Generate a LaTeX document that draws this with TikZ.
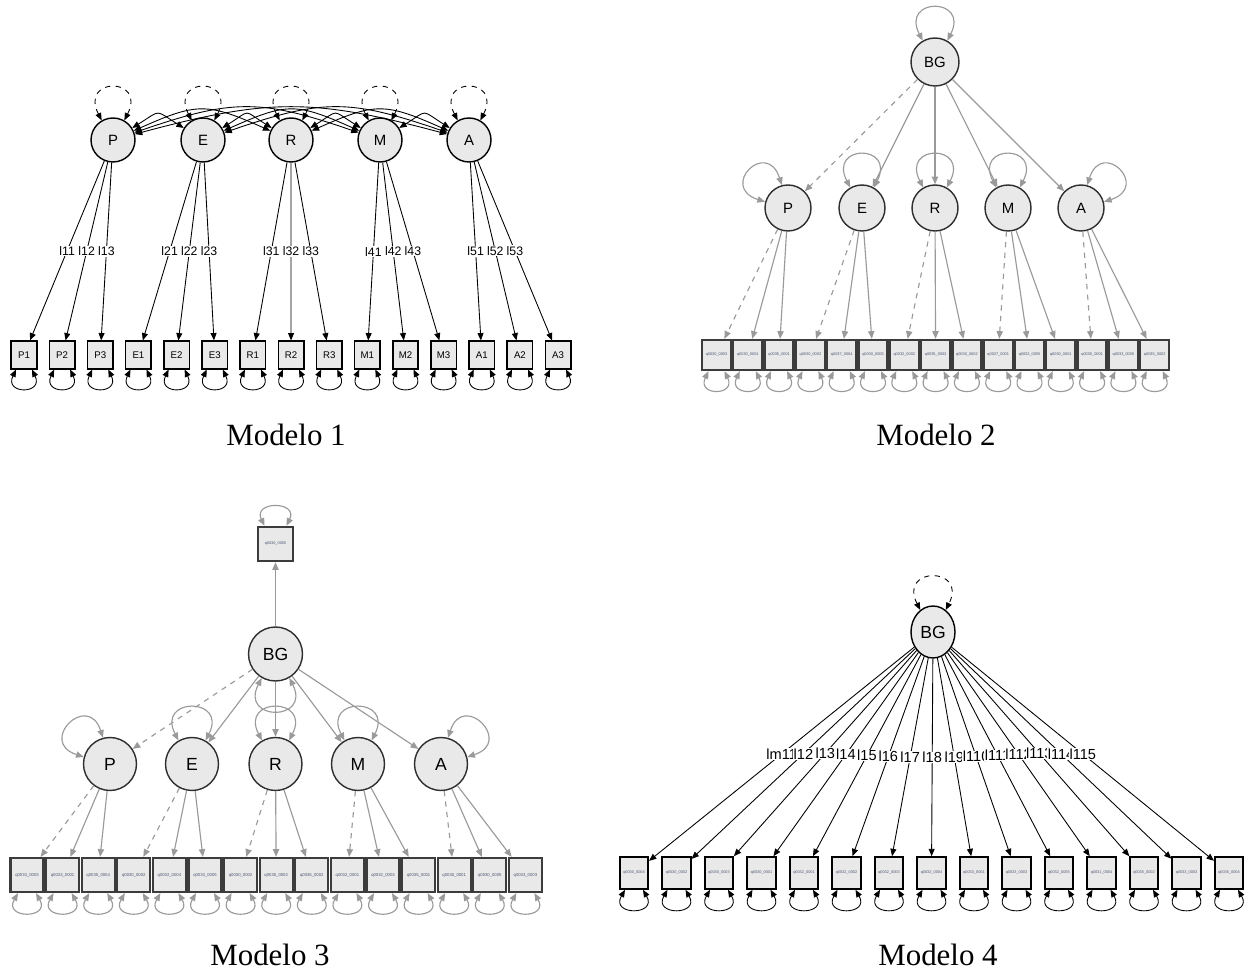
\documentclass[tikz,border=0pt]{standalone}
\usepackage{fontspec}
\setmainfont{Liberation Serif}
\setsansfont{Liberation Sans}
\usetikzlibrary{arrows.meta,shapes.geometric}
\definecolor{nodefill}{HTML}{E9E9E9}
\definecolor{edgegray}{HTML}{9A9A9A}
\definecolor{rimgray}{HTML}{2E2E2E}
\definecolor{boxrim}{HTML}{3C3C3C}
\definecolor{tinytext}{HTML}{4A5470}

% variance loop on a latent: #2 node, #3 direction of the loop (degrees)
\newcommand\lvloop[3][]{%
  \pgfmathtruncatemacro\lpA{#3+30}%
  \pgfmathtruncatemacro\lpB{#3-30}%
  \pgfmathtruncatemacro\lpC{#3+27}%
  \pgfmathtruncatemacro\lpD{#3-27}%
  \draw[#1] (#2.\lpA) .. controls +(\lpC:0.98cm) and +(\lpD:0.98cm) .. (#2.\lpB);}
% residual loop under an indicator box
\newcommand\resloop[2][]{%
  \draw[#1] ([shift={(-8,0)}]#2.south) .. controls +(-12,25) and +(12,25) .. ([shift={(8,0)}]#2.south);}
% wider residual loop
\newcommand\resloopw[2][]{%
  \draw[#1] ([shift={(-9,0)}]#2.south) .. controls +(-15,26) and +(15,26) .. ([shift={(9,0)}]#2.south);}
% covariance arc between two latents: #2 left node, #3 right node, #4 angle, #5 control length
\newcommand\covarc[5][]{%
  \pgfmathtruncatemacro\cvA{180-#4}%
  \draw[#1] (#2.#4) .. controls +(#4:#5) and +(\cvA:#5) .. (#3.\cvA);}

\begin{document}
\begin{tikzpicture}[x=0.02cm,y=-0.02cm,
  >={Triangle[length=4.2pt,width=3.4pt]},
  lat/.style={circle,draw=black,fill=nodefill,line width=0.8pt,inner sep=0pt,
    font=\sffamily\fontsize{8.5}{10}\selectfont},
  latg/.style={lat,draw=rimgray},
  obs1/.style={rectangle,draw=black,fill=nodefill,line width=0.9pt,inner sep=0pt,
    minimum width=0.51cm,minimum height=0.55cm,font=\sffamily\fontsize{5.5}{6}\selectfont},
  obsg/.style={rectangle,draw=boxrim,fill=nodefill,line width=1.3pt,inner sep=0pt,
    text=tinytext,font=\sffamily\fontsize{2.2}{2.5}\selectfont},
  ldk/.style={draw=black,line width=0.5pt},
  ldg/.style={draw=edgegray,line width=0.65pt,>={Triangle[length=4.4pt,width=3.6pt]},color=edgegray},
  lab1/.style={fill=white,inner sep=0.4pt,font=\sffamily\fontsize{7}{8}\selectfont},
  lab4/.style={fill=white,inner sep=0.3pt,font=\sffamily\fontsize{8.3}{9}\selectfont},
  caption/.style={font=\fontsize{17.6}{20}\selectfont}
]
\useasboundingbox (0,0) rectangle (1248,972);

% ---------------- Modelo 1 ----------------
\node[lat,minimum size=0.88cm] (m1P) at (113,140) {P};
\node[lat,minimum size=0.88cm] (m1E) at (203,140) {E};
\node[lat,minimum size=0.88cm] (m1R) at (291,140) {R};
\node[lat,minimum size=0.88cm] (m1M) at (380,140) {M};
\node[lat,minimum size=0.88cm] (m1A) at (469,140) {A};
\foreach \n [count=\k from 0] in {P,E,R,M,A}
  \foreach \j in {1,2,3} {
    \pgfmathsetmacro\bx{24+38.15*(3*\k+\j-1)}
    \node[obs1] (m1\n\j) at (\bx,355) {\n\j};
  }
\foreach \n [count=\k] in {P,E,R,M,A}
  \foreach \j in {1,2,3}
    \draw[ldk,->] (m1\n) -- node[lab1]{l\k\j} (m1\n\j);
\foreach \n in {P,E,R,M,A} {
  \lvloop[ldk,dashed,<->]{m1\n}{90}
  \foreach \j in {1,2,3} {\resloop[ldk,<->]{m1\n\j}}
}
% factor covariances
\covarc[ldk,<->]{m1P}{m1E}{32}{0.70cm}
\covarc[ldk,<->]{m1P}{m1R}{24}{1.39cm}
\covarc[ldk,<->]{m1P}{m1M}{19}{2.08cm}
\covarc[ldk,<->]{m1P}{m1A}{15}{2.78cm}
\covarc[ldk,<->]{m1E}{m1R}{32}{0.70cm}
\covarc[ldk,<->]{m1E}{m1M}{24}{1.39cm}
\covarc[ldk,<->]{m1E}{m1A}{19}{2.08cm}
\covarc[ldk,<->]{m1R}{m1M}{32}{0.70cm}
\covarc[ldk,<->]{m1R}{m1A}{24}{1.39cm}
\covarc[ldk,<->]{m1M}{m1A}{32}{0.70cm}
\node[caption] (cap1) at (286,435) {Modelo 1};

% ---------------- Modelo 2 ----------------
\node[latg,minimum size=0.96cm] (m2BG) at (935,62) {BG};
\node[latg,minimum size=0.92cm] (m2P) at (788,208) {P};
\node[latg,minimum size=0.92cm] (m2E) at (862,208) {E};
\node[latg,minimum size=0.92cm] (m2R) at (935,208) {R};
\node[latg,minimum size=0.92cm] (m2M) at (1008,208) {M};
\node[latg,minimum size=0.92cm] (m2A) at (1081,208) {A};
\foreach \t [count=\i from 0] in {q0030\_0003,q0030\_0001,q0035\_0001,q0030\_0002,q0037\_0004,
    q0030\_0005,q0032\_0002,q0035\_0003,q0030\_0002,q0037\_0001,q0032\_0005,q0030\_0001,
    q0030\_0001,q0033\_0005,q0035\_0002}
  {\node[obsg,minimum width=0.58cm,minimum height=0.6cm] (m2b\i) at ({716.5+31.3*\i},355) {\t};}
\draw[ldg,->,dashed] (m2BG) -- (m2P);
\draw[ldg,->] (m2BG) -- (m2E);
\draw[ldg,->] (m2BG) -- (m2R);
\draw[ldg,->] (m2BG) -- (m2M);
\draw[ldg,->] (m2BG) -- (m2A);
\foreach \n [count=\k from 0] in {P,E,R,M,A} {
  \pgfmathtruncatemacro\ia{3*\k}
  \pgfmathtruncatemacro\ib{3*\k+1}
  \pgfmathtruncatemacro\ic{3*\k+2}
  \draw[ldg,->,dashed] (m2\n) -- (m2b\ia);
  \draw[ldg,->] (m2\n) -- (m2b\ib);
  \draw[ldg,->] (m2\n) -- (m2b\ic);
}
\lvloop[ldg,<->]{m2BG}{90}
\lvloop[ldg,<->]{m2P}{135}
\lvloop[ldg,<->]{m2E}{90}
\lvloop[ldg,<->]{m2R}{90}
\lvloop[ldg,<->]{m2M}{90}
\lvloop[ldg,<->]{m2A}{45}
\foreach \i in {0,...,14} {\resloop[ldg,<->]{m2b\i}}
\node[caption] (cap2) at (936,435) {Modelo 2};

% ---------------- Modelo 3 ----------------
\node[obsg,minimum width=0.7cm,minimum height=0.68cm] (m3T) at (275.5,544) {q0030\_0005};
\node[latg,minimum size=1.08cm,font=\sffamily\fontsize{10}{12}\selectfont] (m3BG) at (275.5,654) {BG};
\node[latg,minimum size=1.06cm,font=\sffamily\fontsize{10}{12}\selectfont] (m3P) at (110,764) {P};
\node[latg,minimum size=1.06cm,font=\sffamily\fontsize{10}{12}\selectfont] (m3E) at (192,764) {E};
\node[latg,minimum size=1.06cm,font=\sffamily\fontsize{10}{12}\selectfont] (m3R) at (275.5,764) {R};
\node[latg,minimum size=1.06cm,font=\sffamily\fontsize{10}{12}\selectfont] (m3M) at (358,764) {M};
\node[latg,minimum size=1.06cm,font=\sffamily\fontsize{10}{12}\selectfont] (m3A) at (441,764) {A};
\foreach \t [count=\i from 0] in {q0033\_0003,q0033\_0001,q0035\_0004,q0030\_0002,q0032\_0004,
    q0033\_0005,q0030\_0002,q0035\_0002,q0035\_0002,q0032\_0001,q0032\_0003,q0035\_0001,
    q0030\_0001,q0030\_0005,q0033\_0003}
  {\node[obsg,minimum width=0.66cm,minimum height=0.68cm,font=\sffamily\fontsize{2.4}{2.8}\selectfont]
    (m3b\i) at ({27+35.6*\i},875) {\t};}
\draw[ldg,->] (m3BG) -- (m3T);
\draw[ldg,->,dashed] (m3BG) -- (m3P);
\draw[ldg,->] (m3BG) -- (m3E);
\draw[ldg,->] (m3BG) -- (m3R);
\draw[ldg,->] (m3BG) -- (m3M);
\draw[ldg,->] (m3BG) -- (m3A);
\foreach \n [count=\k from 0] in {P,E,R,M,A} {
  \pgfmathtruncatemacro\ia{3*\k}
  \pgfmathtruncatemacro\ib{3*\k+1}
  \pgfmathtruncatemacro\ic{3*\k+2}
  \draw[ldg,->,dashed] (m3\n) -- (m3b\ia);
  \draw[ldg,->] (m3\n) -- (m3b\ib);
  \draw[ldg,->] (m3\n) -- (m3b\ic);
}
\draw[ldg,<->] ([shift={(-11,0)}]m3T.north) .. controls +(-12,-25) and +(12,-25) .. ([shift={(11,0)}]m3T.north);
\lvloop[ldg,<->]{m3BG}{270}
\lvloop[ldg,<->]{m3P}{135}
\lvloop[ldg,<->]{m3E}{90}
\lvloop[ldg,<->]{m3R}{90}
\lvloop[ldg,<->]{m3M}{90}
\lvloop[ldg,<->]{m3A}{45}
\foreach \i in {0,...,14} {\resloopw[ldg,<->]{m3b\i}}
\node[caption] (cap3) at (270,955) {Modelo 3};

% ---------------- Modelo 4 ----------------
\node[ellipse,draw=black,fill=nodefill,line width=0.8pt,inner sep=0pt,
  minimum width=0.88cm,minimum height=1.04cm,font=\sffamily\fontsize{10}{12}\selectfont]
  (m4BG) at (933,632) {BG};
\foreach \t [count=\i from 0] in {q0030\_0004,q0030\_0002,q0030\_0003,q0030\_0001,q0032\_0001,
    q0032\_0002,q0032\_0003,q0032\_0004,q0033\_0001,q0033\_0003,q0032\_0005,q0031\_0004,
    q0035\_0002,q0033\_0003,q0035\_0004}
  {\node[obsg,draw=black,line width=0.9pt,minimum width=0.57cm,minimum height=0.64cm]
    (m4b\i) at ({634+42.5*\i},873) {\t};}
\foreach \l [count=\i from 0] in {lm11,l12,l13,l14,l15,l16,l17,l18,l19,l110,l111,l112,l113,l114,l115}
  {\draw[ldk,->] (m4BG) -- node[lab4]{\l} (m4b\i);}
\lvloop[ldk,dashed,<->]{m4BG}{90}
\foreach \i in {0,...,14} {\resloopw[ldk,<->]{m4b\i}}
\node[caption] (cap4) at (938,955) {Modelo 4};
\end{tikzpicture}
\end{document}
